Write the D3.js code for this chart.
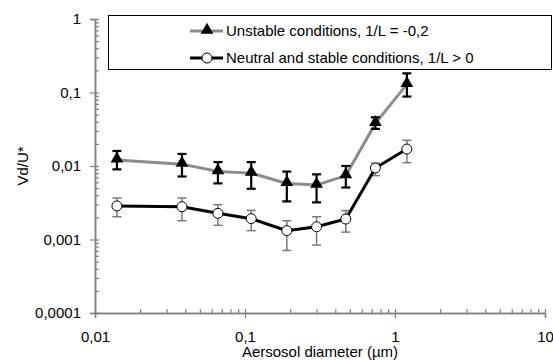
<!DOCTYPE html>
<html>
<head>
<meta charset="utf-8">
<script src="https://cdn.jsdelivr.net/npm/d3@7"></script>
<style>
  body { margin: 0; background: #fff; }
  svg text { font-family: "Liberation Sans", Arial, sans-serif; fill: #000; }
</style>
</head>
<body>
<svg id="chart" width="553" height="361"></svg>
<script>
// aerosol diameter (µm)
const diameters = [0.014, 0.038, 0.066, 0.11, 0.19, 0.3, 0.47, 0.74, 1.2];

// unstable conditions, 1/L = -0,2
const unstable = [0.0121, 0.0106, 0.0084, 0.0080, 0.0058, 0.0055, 0.0074, 0.038, 0.129];
const unstableHi = [0.0160, 0.0146, 0.0113, 0.0113, 0.0084, 0.0077, 0.0100, 0.046, 0.182];
const unstableLo = [0.0090, 0.0072, 0.0058, 0.0049, 0.0033, 0.0032, 0.0051, 0.032, 0.088];

// neutral and stable conditions, 1/L > 0
const neutral = [0.00286, 0.00279, 0.00227, 0.00192, 0.00132, 0.00149, 0.0019, 0.0094, 0.0170];
const neutralHi = [0.00367, 0.00367, 0.00298, 0.00249, 0.0018, 0.00204, 0.00247, 0.0109, 0.0224];
const neutralLo = [0.00204, 0.0018, 0.00156, 0.00132, 0.00071, 0.00084, 0.00126, 0.0074, 0.0111];

const xMajor = [0.01, 0.1, 1, 10];
const xLabels = ["0,01", "0,1", "1", "10"];
const yMajor = [0.0001, 0.001, 0.01, 0.1, 1];
const yLabels = ["0,0001", "0,001", "0,01", "0,1", "1"];
const legendLabels = ["Unstable conditions, 1/L = -0,2", "Neutral and stable conditions, 1/L > 0"];

const svg = d3.select("#chart");
const plot = { left: 95, right: 545, top: 19, bottom: 313 };
const fontSize = 15;

const x = d3.scaleLog().domain([0.01, 10]).range([plot.left, plot.right]);
const y = d3.scaleLog().domain([0.0001, 1]).range([plot.bottom, plot.top]);

const minors = majors => majors.slice(0, -1).flatMap(m => d3.range(2, 10).map(k => m * k));

const styleAxis = g => {
    g.select(".domain").attr("stroke", "#808080").attr("stroke-width", 1.5);
    g.selectAll(".tick line").attr("stroke", "#808080").attr("stroke-width", 1.2);
    g.selectAll("text").attr("font-size", fontSize).attr("fill", "#000");
};

// y axis: labels + outward part of majors, inward minors
svg.append("g")
    .attr("transform", `translate(${plot.left},0)`)
    .call(d3.axisLeft(y).tickValues(yMajor).tickSize(5).tickPadding(9)
        .tickFormat((d, i) => yLabels[i]))
    .call(styleAxis);
svg.append("g")
    .attr("transform", `translate(${plot.left},0)`)
    .call(d3.axisRight(y).tickValues(yMajor.concat(minors(yMajor))).tickSize(4).tickSizeOuter(0).tickFormat(""))
    .call(styleAxis);

// x axis
svg.append("g")
    .attr("transform", `translate(0,${plot.bottom})`)
    .call(d3.axisBottom(x).tickValues(xMajor).tickSize(5).tickPadding(13)
        .tickFormat((d, i) => xLabels[i]))
    .call(styleAxis);
svg.append("g")
    .attr("transform", `translate(0,${plot.bottom})`)
    .call(d3.axisTop(x).tickValues(xMajor.concat(minors(xMajor))).tickSize(4).tickSizeOuter(0).tickFormat(""))
    .call(styleAxis);

// axis titles
svg.append("text")
    .attr("x", (plot.left + plot.right) / 2)
    .attr("y", 357)
    .attr("text-anchor", "middle")
    .attr("font-size", fontSize)
    .text("Aersosol diameter (µm)");
svg.append("text")
    .attr("transform", `translate(28,${(plot.top + plot.bottom) / 2}) rotate(-90)`)
    .attr("text-anchor", "middle")
    .attr("font-size", fontSize)
    .text("Vd/U*");

const line = d3.line().x(d => x(d[0])).y(d => y(d[1]));
const tri = d3.symbol().type(d3.symbolTriangle).size(70);

// unstable series
const uData = diameters.map((d, i) => [d, unstable[i], unstableLo[i], unstableHi[i]]);
svg.append("path")
    .datum(uData)
    .attr("d", line)
    .attr("fill", "none")
    .attr("stroke", "#8c8c8c")
    .attr("stroke-width", 3);
svg.selectAll(".u-mark")
    .data(uData)
    .join("path")
    .attr("class", "u-mark")
    .attr("d", tri)
    .attr("transform", d => `translate(${x(d[0])},${y(d[1]) - 1})`)
    .attr("fill", "#000");
const uErr = svg.selectAll(".u-err").data(uData).join("g").attr("class", "u-err")
    .attr("stroke", "#000").attr("stroke-width", 2.2);
uErr.append("line").attr("x1", d => x(d[0])).attr("x2", d => x(d[0]))
    .attr("y1", d => y(d[3])).attr("y2", d => y(d[2]));
uErr.append("line").attr("x1", d => x(d[0]) - 4.5).attr("x2", d => x(d[0]) + 4.5)
    .attr("y1", d => y(d[3])).attr("y2", d => y(d[3]));
uErr.append("line").attr("x1", d => x(d[0]) - 4.5).attr("x2", d => x(d[0]) + 4.5)
    .attr("y1", d => y(d[2])).attr("y2", d => y(d[2]));

// neutral series
const nData = diameters.map((d, i) => [d, neutral[i], neutralLo[i], neutralHi[i]]);
const nErr = svg.selectAll(".n-err").data(nData).join("g").attr("class", "n-err")
    .attr("stroke", "#7a7a7a").attr("stroke-width", 1.5);
nErr.append("line").attr("x1", d => x(d[0])).attr("x2", d => x(d[0]))
    .attr("y1", d => y(d[3])).attr("y2", d => y(d[2]));
nErr.append("line").attr("x1", d => x(d[0]) - 4.5).attr("x2", d => x(d[0]) + 4.5)
    .attr("y1", d => y(d[3])).attr("y2", d => y(d[3]));
nErr.append("line").attr("x1", d => x(d[0]) - 4.5).attr("x2", d => x(d[0]) + 4.5)
    .attr("y1", d => y(d[2])).attr("y2", d => y(d[2]));
svg.append("path")
    .datum(nData)
    .attr("d", line)
    .attr("fill", "none")
    .attr("stroke", "#000")
    .attr("stroke-width", 3);
svg.selectAll(".n-mark")
    .data(nData)
    .join("circle")
    .attr("class", "n-mark")
    .attr("cx", d => x(d[0]))
    .attr("cy", d => y(d[1]))
    .attr("r", 5)
    .attr("fill", "#fff")
    .attr("stroke", "#000")
    .attr("stroke-width", 1);

// legend
const legend = svg.append("g");
legend.append("rect")
    .attr("x", 108.5).attr("y", 15.5)
    .attr("width", 443).attr("height", 54)
    .attr("fill", "#fff").attr("stroke", "#000").attr("stroke-width", 1);
const rows = [
    { label: legendLabels[0], color: "#8c8c8c", y: 31, mark: "tri" },
    { label: legendLabels[1], color: "#000", y: 58, mark: "circle" }
];
rows.forEach(r => {
    legend.append("line")
        .attr("x1", 190).attr("x2", 223)
        .attr("y1", r.y).attr("y2", r.y)
        .attr("stroke", r.color).attr("stroke-width", 3);
    if (r.mark === "tri") {
        legend.append("path").attr("d", tri)
            .attr("transform", `translate(207,${r.y - 1})`).attr("fill", "#000");
    } else {
        legend.append("circle").attr("cx", 207).attr("cy", r.y).attr("r", 5)
            .attr("fill", "#fff").attr("stroke", "#000");
    }
    legend.append("text")
        .attr("x", 226).attr("y", r.y + 5.4)
        .attr("font-size", fontSize)
        .text(r.label);
});
</script>
</body>
</html>
